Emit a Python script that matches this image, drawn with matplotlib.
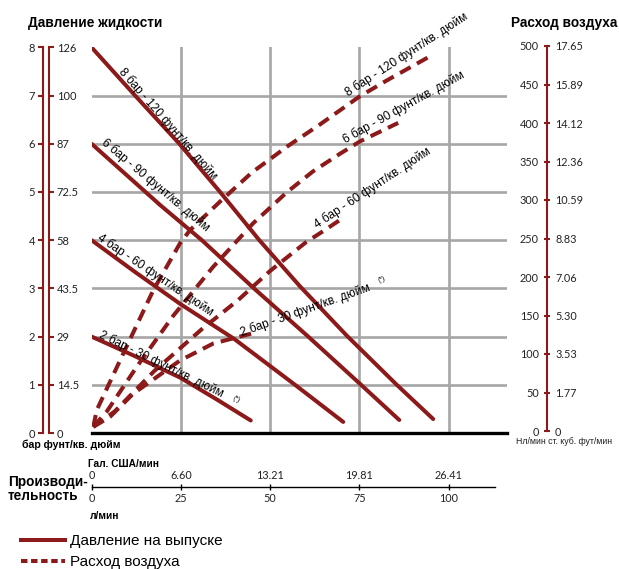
import matplotlib
matplotlib.use("Agg")
import math
import matplotlib.pyplot as plt
from matplotlib.lines import Line2D
from matplotlib import font_manager

# ---------------- data ----------------
bar_ticks = [0, 1, 2, 3, 4, 5, 6, 7, 8]
psi_labels = ["0", "14.5", "29", "43.5", "58", "72.5", "87", "100", "126"]
nlmin_ticks = [0, 50, 100, 150, 200, 250, 300, 350, 400, 450, 500]
scfm_labels = ["0", "1.77", "3.53", "5.30", "7.06", "8.83", "10.59", "12.36", "14.12", "15.89", "17.65"]
lmin_ticks = [0, 25, 50, 75, 100]
gpm_labels = ["0", "6.60", "13.21", "19.81", "26.41"]

# outlet pressure (bar) vs flow (l/min)
flow_p8 = [0, 12.2, 24.6, 36, 47, 58.3, 71.5, 85.5, 95.7]
pres_p8 = [8, 7, 6, 5, 4, 3.05, 2.02, 1.0, 0.29]
flow_p6 = [0, 19.2, 30.9, 45.5, 60.7, 75.5, 86.2]
pres_p6 = [6, 4.73, 4.0, 3.0, 2.0, 1.0, 0.27]
flow_p4 = [0, 12, 24.8, 40, 57, 70.5]
pres_p4 = [4, 3.35, 2.68, 1.95, 1.0, 0.23]
flow_p2 = [0, 12, 24.8, 35, 44.6]
pres_p2 = [2, 1.6, 1.15, 0.7, 0.26]

# air consumption (Nl/min) vs flow (l/min)
flow_a8 = [0.5, 1.5, 8.9, 17.3, 24.8, 27.6, 36, 45, 55, 64, 75, 82.7, 94.3]
air_a8 = [8, 30, 103, 185, 246, 263, 300, 338, 372, 400, 436, 457, 487]
flow_a6 = [0.5, 4.3, 12.7, 22.9, 34, 45.3, 54.7, 62, 69.6, 75.2, 85.9]
air_a6 = [8, 28, 86, 152, 215, 272, 312, 339, 362, 378, 402]
flow_a4 = [0.5, 6.5, 17.5, 31, 41, 50, 60, 66, 70.5]
air_a4 = [8, 28, 80, 135, 172, 210, 247, 265, 279]
flow_a2 = [0.5, 5.2, 11.7, 24.8, 34.1, 44.9]
air_a2 = [8, 21, 51, 94, 116, 129]

lab8 = "8 бар - 120 фунт/кв. дюйм"
lab6 = "6 бар - 90 фунт/кв. дюйм"
lab4 = "4 бар - 60 фунт/кв. дюйм"
lab2 = "2 бар - 30 фунт/кв. дюйм"

# ---------------- style / layout ----------------
W, H = 619, 569
RED = "#8C1A1A"
GRID = "#A6A6A6"
names = {f.name for f in font_manager.fontManager.ttflist}
NARROW = "Liberation Sans Narrow" if "Liberation Sans Narrow" in names else "Liberation Sans"
HAS_NARROW = NARROW == "Liberation Sans Narrow"
NUM = "Lato"
SANS = "Liberation Sans"
plt.rcParams["font.family"] = [SANS, "DejaVu Sans"]

fig = plt.figure(figsize=(W / 100, H / 100), dpi=100)


def box(l, t, r, b):
    return [l / W, 1 - b / H, (r - l) / W, (b - t) / H]


def px(x, y):
    return (x / W, 1 - y / H)


PXU = 3.57  # px per l/min
X0 = 91.5
XMAX = (507 - X0) / PXU

# main plotting area
ax = fig.add_axes(box(X0, 47.3, 507, 433))
ax.set_xlim(0, XMAX)
ax.set_ylim(0, 8)
for s in ax.spines.values():
    s.set_visible(False)
ax.set_xticks(lmin_ticks[1:])
ax.set_yticks(bar_ticks[1:-1])
ax.tick_params(length=0, labelbottom=False, labelleft=False)
ax.grid(True, color=GRID, lw=1.9)
ax.set_axisbelow(True)
ax.axhline(0, color="black", lw=2.4, clip_on=False, zorder=3)

LW = 2.9
for fx_, py_ in [(flow_p8, pres_p8), (flow_p6, pres_p6), (flow_p4, pres_p4), (flow_p2, pres_p2)]:
    ax.plot(fx_, py_, color=RED, lw=LW, solid_capstyle="round", zorder=4)

axA = ax.twinx()
axA.set_ylim(0, 500)
axA.axis("off")
for fx_, ay_ in [(flow_a8, air_a8), (flow_a6, air_a6), (flow_a4, air_a4), (flow_a2, air_a2)]:
    axA.plot(fx_, ay_, color=RED, lw=LW, dashes=(3.0, 1.8), zorder=4)

# curve labels: pixel center, screen angle, perpendicular offset (px)
lab_kw = dict(fontsize=8.6, color="black", ha="center", va="center",
              rotation_mode="anchor", family=SANS)
labels = [
    (lab8, 165, 127, -49, 4.5), (lab6, 153, 188, -40, 4.5), (lab4, 153, 279, -34, 4.5),
    (lab2, 159, 368, -26, 4.5),
    (lab8, 407, 55, 33, 0), (lab6, 404, 107, 29, 0), (lab4, 372, 188, 33.5, 0),
    (lab2, 305, 310, 19.5, 0),
]
for t, x, y, r, off in labels:
    a = math.radians(r)
    cx = x - off * math.sin(a)
    cy = y - off * math.cos(a)
    fig.text(*px(cx, cy), t, rotation=r, **lab_kw)
fig.text(*px(236, 399), "(*)", fontsize=5, rotation=-26, ha="center", va="center",
         rotation_mode="anchor")
fig.text(*px(382, 279), "(*)", fontsize=5, rotation=19.5, ha="center", va="center",
         rotation_mode="anchor")

# left axes (bar and psi)
axL1 = fig.add_axes(box(43.3, 47.3, 43.35, 433))
axL2 = fig.add_axes(box(49.0, 47.3, 49.05, 433))
for a_ in (axL1, axL2):
    a_.set_ylim(0, 8)
    a_.set_xticks([])
    a_.patch.set_visible(False)
    for s in a_.spines.values():
        s.set_visible(False)
    a_.set_yticks(bar_ticks)
axL1.spines["left"].set_visible(True)
axL1.spines["left"].set_color(RED)
axL1.spines["left"].set_linewidth(1.5)
axL1.set_yticklabels([str(b) for b in bar_ticks], fontsize=8, family=NUM, color="#222222")
axL1.tick_params(axis="y", direction="out", length=3.6, width=1.5, color=RED, pad=2.5)
axL2.spines["right"].set_visible(True)
axL2.spines["right"].set_color(RED)
axL2.spines["right"].set_linewidth(1.5)
axL2.yaxis.tick_right()
axL2.set_yticklabels(psi_labels, fontsize=8, family=NUM, color="#222222")
axL2.tick_params(axis="y", direction="out", length=3.6, width=1.5, color=RED, pad=2.0)

# right axis (Nl/min and scfm)
axR = fig.add_axes(box(546.7, 46, 546.75, 431))
axR.set_ylim(0, 500)
axR.set_xticks([])
axR.patch.set_visible(False)
for s in axR.spines.values():
    s.set_visible(False)
axR.spines["left"].set_visible(True)
axR.spines["left"].set_color(RED)
axR.spines["left"].set_linewidth(1.5)
axR.set_yticks(nlmin_ticks)
axR.set_yticklabels([str(v) for v in nlmin_ticks], fontsize=7.8, family=NUM, color="#222222")
axR.tick_params(axis="y", direction="inout", length=4.5, width=1.5, color=RED, pad=3.5)
axR2 = axR.twinx()
axR2.set_ylim(0, 500)
for s in axR2.spines.values():
    s.set_visible(False)
axR2.set_yticks(nlmin_ticks)
axR2.set_yticklabels(scfm_labels, fontsize=7.8, family=NUM, color="#222222")
axR2.tick_params(axis="y", length=0, pad=6.0)

# bottom flow axis
axB = fig.add_axes(box(X0, 487, 495, 487.05))
axB.set_xlim(0, (495 - X0) / PXU)
axB.set_yticks([])
axB.patch.set_visible(False)
for s in axB.spines.values():
    s.set_visible(False)
axB.spines["bottom"].set_visible(True)
axB.spines["bottom"].set_linewidth(1.0)
axB.set_xticks(lmin_ticks)
axB.set_xticklabels([str(v) for v in lmin_ticks], fontsize=7.8, family=NUM, color="#222222")
axB.tick_params(axis="x", direction="inout", length=5, width=1.0, pad=1.5)
axB2 = axB.twiny()
axB2.set_xlim(axB.get_xlim())
for s in axB2.spines.values():
    s.set_visible(False)
axB2.set_xticks(lmin_ticks)
axB2.set_xticklabels(gpm_labels, fontsize=7.8, family=NUM, color="#222222")
axB2.tick_params(axis="x", length=0, pad=4.0)

# titles and unit texts
bold = dict(fontweight="bold", family=SANS, color="black")
fig.text(*px(28, 27), "Давление жидкости", fontsize=9.8, ha="left", va="baseline", **bold)
fig.text(*px(617, 27), "Расход воздуха", fontsize=9.8, ha="right", va="baseline", **bold)
fig.text(*px(22, 447.5), "бар фунт/кв. дюйм", fontsize=7.6, ha="left", va="baseline", **bold)
fig.text(*px(516, 444), "Нл/мин ст. куб. фут/мин", fontsize=7.0 if HAS_NARROW else 6.3,
         ha="left", va="baseline", family=NARROW, color="#222222")
fig.text(*px(88, 467), "Гал. США/мин", fontsize=7.3, ha="left", va="baseline", **bold)
fig.text(*px(90, 519), "л/мин", fontsize=7.3, ha="left", va="baseline", **bold)
fig.text(*px(8, 486), "Производи-", fontsize=9.8, ha="left", va="baseline", **bold)
fig.text(*px(8, 500), "тельность", fontsize=9.8, ha="left", va="baseline", **bold)

# legend
h1 = Line2D([], [], color=RED, lw=LW)
h2 = Line2D([], [], color=RED, lw=LW, dashes=(1.6, 0.9))
fig.legend([h1, h2], ["Давление на выпуске", "Расход воздуха"],
           loc="upper left", bbox_to_anchor=px(15, 528), frameon=False,
           prop=dict(family=NARROW, size=12 if HAS_NARROW else 11), handlelength=2.9,
           handletextpad=0.3, labelspacing=0.45, borderaxespad=0)

fig.savefig("out.png", dpi=100)
